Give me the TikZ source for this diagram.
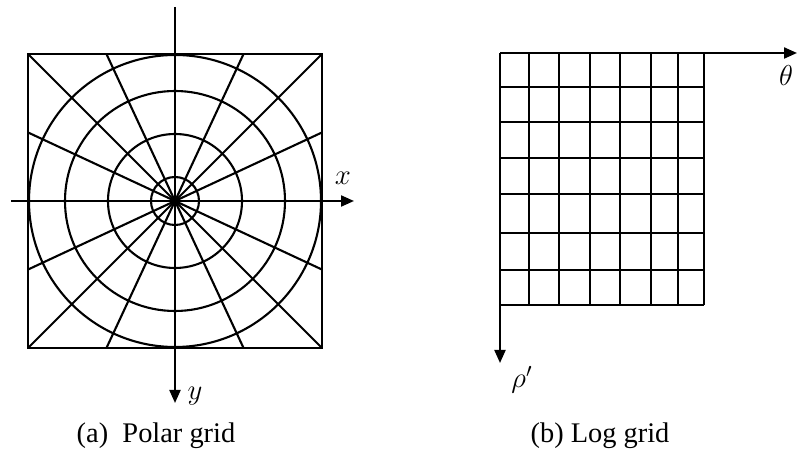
\documentclass[tikz,border=0pt]{standalone}
\usepackage{fontspec}
\setmainfont{Liberation Serif}
\usetikzlibrary{arrows.meta}

\begin{document}
\begin{tikzpicture}[
    x=0.5pt, y=-0.5pt,
    gridline/.style={line width=1.05pt},
    axis/.style={line width=1.05pt, -{Triangle[width=5.5pt,length=6.5pt]}},
    lbl/.style={font=\fontsize{14}{16}\selectfont, inner sep=0pt},
    caption/.style={font=\fontsize{14.2}{16}\selectfont, inner sep=0pt}
]
    \useasboundingbox (0,0) rectangle (797,458);

    % (a) Polar grid
    \coordinate (po) at (175,201);
    \draw[gridline] (28,54) rectangle (322,348);
    \foreach \r in {24,67,110,146}
        \draw[gridline] (po) circle (\r);
    \foreach \a in {25,45,65,115,135,155,205,225,245,295,315,335}
        \draw[gridline] (po) -- ++(\a:{147/max(abs(cos(\a)),abs(sin(\a)))});
    \coordinate (xstart) at (11,201);
    \coordinate (xend) at (354,201);
    \coordinate (ystart) at (175,7);
    \coordinate (yend) at (175,403);
    \draw[axis] (xstart) -- (xend);
    \draw[axis] (ystart) -- (yend);
    \node[lbl] (xlab) at (343,178) {$x$};
    \node[lbl] (ylab) at (195,396) {$y$};

    % (b) Log grid
    \coordinate (lo) at (500,53);
    \foreach \gx in {529,559,590,620,651,678,704}
        \draw[gridline] (\gx,53) -- (\gx,305);
    \foreach \gy in {87,122,158,194,233,270,305}
        \draw[gridline] (500,\gy) -- (704,\gy);
    \coordinate (thend) at (797,53);
    \coordinate (rhoend) at (500,363);
    \draw[axis] (lo) -- (thend);
    \draw[axis] (lo) -- (rhoend);
    \node[lbl] (thlab) at (786,76) {$\theta$};
    \node[lbl] (rholab) at (522,380) {$\rho'$};

    % captions
    \node[caption] (capa) at (156,436) {(a)\ \ Polar grid};
    \node[caption] (capb) at (600,436) {(b) Log grid};
\end{tikzpicture}
\end{document}
